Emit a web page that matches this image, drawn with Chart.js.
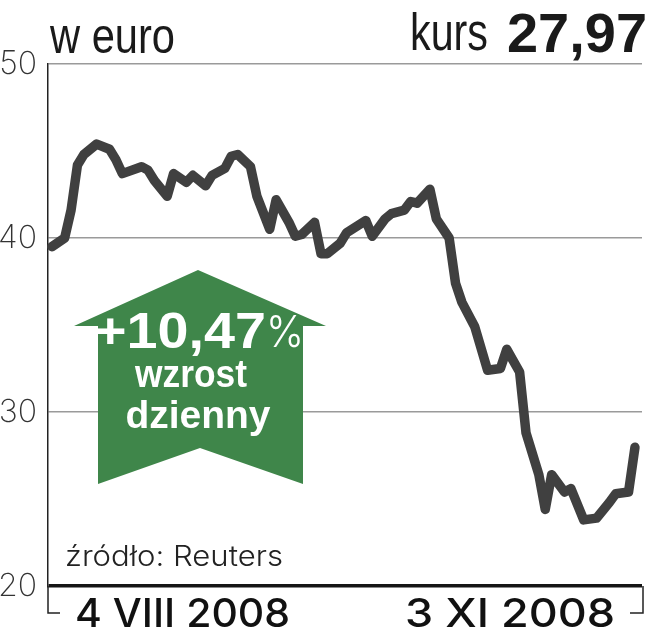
<!DOCTYPE html>
<html><head><meta charset="utf-8">
<script src="https://cdn.jsdelivr.net/npm/chart.js@4.4.1/dist/chart.umd.min.js"></script>
<style>html,body{margin:0;padding:0;background:#fff}#wrap{width:652px;height:640px}</style>
</head><body><div id="wrap"><canvas id="c" width="652" height="640"></canvas></div>
<script>
// days since 4 VIII 2008
const dni = [0,2,3,4,5,7,9,10,11,14,15,16,18,19,21,22,24,25,27,28,29,31,32,34,35,37,38,39,41,42,43,45,46,49,50,52,53,55,56,57,59,60,62,63,64,66,68,70,71,73,74,76,77,78,80,81,83,85,87,88,90,91];
// share price in euro
const kurs = [39.5,40.0,41.6,44.2,44.8,45.4,45.1,44.5,43.7,44.1,43.9,43.3,42.4,43.7,43.2,43.6,43.0,43.6,44.0,44.7,44.8,44.1,42.4,40.5,42.2,40.9,40.1,40.2,40.9,39.1,39.1,39.7,40.3,41.0,40.1,41.1,41.4,41.6,42.1,42.0,42.8,41.1,40.0,37.4,36.3,34.9,32.4,32.5,33.6,32.3,28.8,26.4,24.4,26.4,25.4,25.6,23.8,23.9,24.8,25.3,25.4,27.97];
const osY = [20,30,40,50];
const etykietyDat = ['4 VIII 2008','3 XI 2008'];
const naglowek = 'w euro';
const kursLabel = 'kurs';
const kursWartosc = '27,97';
const zmiana = '+10,47';
const zmianaZnak = '%';
const zmianaOpis = ['wzrost','dzienny'];
const zrodlo = 'źródło: Reuters';

function tekst(ctx, s, x, y, font, color, width, align) {
  ctx.save();
  ctx.font = font;
  ctx.fillStyle = color;
  ctx.textBaseline = 'alphabetic';
  ctx.textAlign = 'left';
  const w = ctx.measureText(s).width;
  const sx = width ? width / w : 1;
  const realW = w * sx;
  let left = x;
  if (align === 'right') left = x - realW;
  else if (align === 'center') left = x - realW / 2;
  ctx.translate(left, y);
  ctx.scale(sx, 1);
  ctx.fillText(s, 0, 0);
  ctx.restore();
}

const dekoracje = {
  id: 'dekoracje',
  beforeDatasetsDraw(chart) {
    const ctx = chart.ctx;
    ctx.save();
    ctx.fillStyle = '#3f864a';
    ctx.beginPath();
    ctx.moveTo(198, 270);
    ctx.lineTo(326, 326);
    ctx.lineTo(303, 326);
    ctx.lineTo(303, 484);
    ctx.lineTo(200, 448);
    ctx.lineTo(98, 484);
    ctx.lineTo(98, 326);
    ctx.lineTo(74, 326);
    ctx.closePath();
    ctx.fill();
    ctx.restore();
    tekst(ctx, zmiana, 94, 348, 'bold 50px "Liberation Sans", Arial, sans-serif', '#ffffff', 172, 'left');
    tekst(ctx, zmianaZnak, 266, 347, '300 44px Inter, "Liberation Sans", sans-serif', '#ffffff', 38, 'left');
    tekst(ctx, zmianaOpis[0], 191, 387, 'bold 38px "Liberation Sans", Arial, sans-serif', '#ffffff', 112, 'center');
    tekst(ctx, zmianaOpis[1], 198, 428, 'bold 38px "Liberation Sans", Arial, sans-serif', '#ffffff', 145, 'center');
  },
  afterDraw(chart) {
    const ctx = chart.ctx;
    const a = chart.chartArea;
    tekst(ctx, naglowek, 50, 53, '50px "Liberation Sans", Arial, sans-serif', '#1a1a1a', 125, 'left');
    tekst(ctx, kursLabel, 410, 50, '51px "Liberation Sans", Arial, sans-serif', '#1a1a1a', 78, 'left');
    tekst(ctx, kursWartosc, 647, 52, 'bold 56px "Liberation Sans", Arial, sans-serif', '#1a1a1a', 140, 'right');
    tekst(ctx, zrodlo, 65, 566, '300 28px Inter, Lato, sans-serif', '#222', 218, 'left');
    tekst(ctx, etykietyDat[0], 75, 627, '500 40px Inter, Roboto, sans-serif', '#111', 215, 'left');
    tekst(ctx, etykietyDat[1], 615, 627, '500 40px Inter, Roboto, sans-serif', '#111', 210, 'right');
    ctx.save();
    ctx.strokeStyle = '#222';
    ctx.lineWidth = 1.5;
    ctx.beginPath();
    ctx.moveTo(a.left, a.bottom);
    ctx.lineTo(a.left, a.bottom + 27);
    ctx.lineTo(a.left + 12, a.bottom + 27);
    ctx.moveTo(a.right + 1, a.bottom);
    ctx.lineTo(a.right + 1, a.bottom + 27);
    ctx.lineTo(a.right - 12, a.bottom + 27);
    ctx.stroke();
    ctx.restore();
  }
};

new Chart(document.getElementById('c'), {
  type: 'line',
  data: {
    datasets: [{
      data: dni.map((d, i) => ({x: d, y: kurs[i]})),
      borderColor: '#404040',
      borderWidth: 9.5,
      pointRadius: 0,
      tension: 0,
      borderJoinStyle: 'round',
      borderCapStyle: 'round',
      clip: false
    }]
  },
  options: {
    responsive: false,
    devicePixelRatio: 1,
    animation: false,
    layout: {padding: {top: 64, right: 10, bottom: 54, left: 0}},
    plugins: {legend: {display: false}, tooltip: {enabled: false}},
    scales: {
      x: {type: 'linear', min: -0.6, max: 92.1, display: false},
      y: {
        min: 20, max: 50,
        afterBuildTicks: ax => { ax.ticks = osY.map(v => ({value: v})); },
        afterFit: s => { s.width = 48; },
        ticks: {font: {family: 'Inter, Lato, sans-serif', size: 32, weight: 200}, color: '#333', padding: 11},
        grid: {
          color: c => c.tick && c.tick.value === 20 ? '#151515' : '#9a9a9a',
          lineWidth: c => c.tick && c.tick.value === 20 ? 3.5 : 1.6,
          drawTicks: false
        },
        border: {display: true, color: '#222', width: 1.5}
      }
    }
  },
  plugins: [dekoracje]
});
</script>
</body></html>
